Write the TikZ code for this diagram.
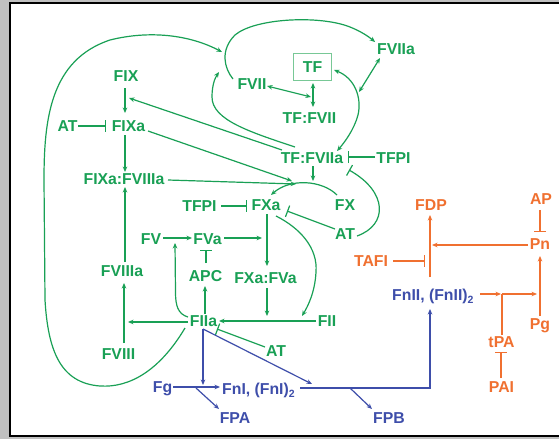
\documentclass[tikz,border=0pt]{standalone}
\usepackage{fontspec}
\setmainfont{Liberation Sans}
\usetikzlibrary{arrows.meta}
\definecolor{gcol}{RGB}{25,160,85}
\definecolor{ocol}{RGB}{240,112,48}
\definecolor{bcol}{RGB}{62,78,170}
\definecolor{tfbox}{RGB}{120,200,150}
\definecolor{bggray}{RGB}{192,192,192}
\newcommand\lblfont{\fontsize{15.8pt}{18pt}\selectfont\bfseries}
\newcommand\subtwo{\raisebox{-3.5pt}{\fontsize{10.5pt}{11pt}\selectfont 2}}
\begin{document}
\begin{tikzpicture}[x=1pt,y=-1pt,
  lbl/.style={font=\lblfont, inner sep=0pt, text height=11.4pt, text depth=0pt},
  gt/.style={lbl, text=gcol}, ot/.style={lbl, text=ocol}, bt/.style={lbl, text=bcol},
  gl/.style={draw=gcol, line width=1.2pt},
  ol/.style={draw=ocol, line width=1.2pt},
  bl/.style={draw=bcol, line width=1.2pt},
  arr/.style={-{Stealth[length=5.5pt,width=4.6pt]}},
  darr/.style={{Stealth[length=5.5pt,width=4.6pt]}-{Stealth[length=5.5pt,width=4.6pt]}},
  inh/.style={-{Bar[width=12pt]}}]
\useasboundingbox (0,0) rectangle (559,439);
% frame
\fill[bggray] (0,0) rectangle (559,439);
\fill[white] (10,3) rectangle (562,436);
\draw[black, line width=2.8pt] (565,436) -- (10,436) -- (10,3) -- (565,3);

% green nodes
\node[gt] (fix) at (126,76) {FIX};
\node[gt] (fixa) at (128.5,126) {FIXa};
\node[gt] (atl) at (67.5,126) {AT};
\node[gt] (fixafviiia) at (124,179) {FIXa:FVIIIa};
\node[gt] (tfpil) at (199.5,206) {TFPI};
\node[gt] (fxa) at (266,205) {FXa};
\node[gt] (fvii) at (252,84) {FVII};
\node[gt, draw=tfbox, line width=0.8pt, inner xsep=9pt, inner ysep=7.8pt] (tf) at (312.5,67) {TF};
\node[gt] (tffvii) at (309.5,117.5) {TF:FVII};
\node[gt] (fviia) at (396,49) {FVIIa};
\node[gt] (tffviia) at (312,157.5) {TF:FVIIa};
\node[gt] (tfpir) at (393.5,157.5) {TFPI};
\node[gt] (fx) at (345,205) {FX};
\node[gt] (atm) at (345,233.5) {AT};
\node[gt] (fv) at (151,238.5) {FV};
\node[gt] (fva) at (207.5,238.5) {FVa};
\node[gt] (apc) at (205.5,275.5) {APC};
\node[gt] (fviiia) at (122,271) {FVIIIa};
\node[gt] (fxafva) at (265.5,277.5) {FXa:FVa};
\node[gt] (fiia) at (203.5,321) {FIIa};
\node[gt] (fii) at (327,321) {FII};
\node[gt] (atb) at (276,351) {AT};
\node[gt] (fviii) at (118.5,354) {FVIII};
% blue nodes
\node[bt] (fg) at (162.5,386.5) {Fg};
\node[bt, anchor=west] (fni) at (222,388.5) {FnI, (FnI)\subtwo};
\node[bt] (fpa) at (235,417.5) {FPA};
\node[bt] (fpb) at (389,417.5) {FPB};
\node[bt, anchor=west] (fnii) at (392,294.5) {FnII, (FnII)\subtwo};
% orange nodes
\node[ot] (fdp) at (431,205) {FDP};
\node[ot] (tafi) at (371,261) {TAFI};
\node[ot] (pn) at (540,244) {Pn};
\node[ot] (ap) at (541,199) {AP};
\node[ot] (pg) at (540,324) {Pg};
\node[ot] (tpa) at (501.5,341.5) {tPA};
\node[ot] (pai) at (501.5,386.5) {PAI};

% green connectors
\draw[gl, arr] ([shift={(-1,12)}]fix.center) -- ([shift={(-3.5,-13)}]fixa.center);
\draw[gl, inh] ([shift={(10.5,0)}]atl.center) -- ([shift={(-22.5,0)}]fixa.center);
\draw[gl, arr] ([shift={(-3.5,9)}]fixa.center) -- ([shift={(1,-7)}]fixafviiia.center);
\draw[gl, arr] ([shift={(3,-9)}]fviiia.center) -- ([shift={(1,8)}]fixafviiia.center);
\draw[gl, arr] ([shift={(5.5,-11)}]fviii.center) -- ([shift={(2,12)}]fviiia.center);
\draw[gl, arr] ([shift={(-15.5,1)}]fiia.center) -- ([shift={(9.5,-32)}]fviii.center);
\draw[gl, arr] ([shift={(1.5,-7)}]fiia.center) -- ([shift={(-0.5,10.5)}]apc.center);
\draw[gl, inh] ([shift={(0.5,-12.5)}]apc.center) -- ([shift={(-1.5,11.5)}]fva.center);
\draw[gl, arr] ([shift={(12,-0.5)}]fv.center) -- ([shift={(-15.5,-0.5)}]fva.center);
\draw[gl, arr] ([shift={(-15.5,-4)}]fiia.center) .. controls (178,314) and (175.5,306) .. (175.5,292) -- ([shift={(24,4.5)}]fv.center);
\draw[gl, arr] ([shift={(16.5,-0.5)}]fva.center) -- ([shift={(-4,33)}]fxa.center);
\draw[gl, arr] ([shift={(1,9)}]fxa.center) -- ([shift={(1.5,-11.5)}]fxafva.center);
\draw[gl, arr] ([shift={(1.5,10.5)}]fxafva.center) -- ([shift={(63.5,-5)}]fiia.center);
\draw[gl, arr] ([shift={(-11,0)}]fii.center) -- ([shift={(15.5,0)}]fiia.center);
\draw[gl, arr] ([shift={(10,11)}]fxa.center) .. controls (300,228) and (318,248) .. (316,272) .. controls (315,292) and (308,306) .. ([shift={(-25,-5)}]fii.center);
\draw[gl, inh] ([shift={(-11,-4)}]atb.center) -- ([shift={(13.5,8)}]fiia.center);
\draw[gl, inh] ([shift={(-10,-4.5)}]atm.center) -- ([shift={(21,6)}]fxa.center);
\draw[gl, inh] ([shift={(21.5,0)}]tfpil.center) -- ([shift={(-19,1)}]fxa.center);
\draw[gl, arr] ([shift={(-8,-10)}]fx.center) .. controls (322,180) and (290,178) .. ([shift={(5,-10)}]fxa.center);
\draw[gl, arr] ([shift={(1,8.5)}]tffviia.center) -- ([shift={(1,23.5)}]tffviia.center);
\draw[gl, arr] ([shift={(19.5,5)}]fixa.center) -- ([shift={(26,-24)}]fxa.center);
\draw[gl, arr] ([shift={(44,1)}]fixafviiia.center) -- ([shift={(30,-21)}]fxa.center);
\draw[gl, arr] ([shift={(-30,-7.5)}]tffviia.center) -- ([shift={(3,22)}]fix.center);
\draw[gl, arr] ([shift={(-17,-10.5)}]tffviia.center) .. controls (250,132) and (212,120) .. (212,97) .. controls (212,85) and (215,78) .. ([shift={(-33,-12)}]fvii.center);
\draw[gl, arr] ([shift={(-19,-5)}]fvii.center) .. controls (224,68) and (220,50) .. (235,35) .. controls (255,18) and (320,15) .. (350,27) .. controls (360,31) and (368,36) .. ([shift={(-21,-7)}]fviia.center);
\draw[gl, arr] ([shift={(-18.5,7)}]fiia.center) .. controls (160,370) and (130,388) .. (100,386) .. controls (60,383) and (48,350) .. (45,300) -- (44,180) .. controls (44,120) and (50,60) .. (110,40) .. controls (150,30) and (190,35) .. ([shift={(-30,-32)}]fvii.center);
\draw[gl, darr] ([shift={(15,2)}]fvii.center) -- ([shift={(1.5,-20.5)}]tffvii.center);
\draw[gl, darr] ([shift={(0.5,16)}]tf.center) -- ([shift={(3.5,-10.5)}]tffvii.center);
\draw[gl, darr] ([shift={(21.5,3)}]tf.center) .. controls (355,78) and (362,98) .. (358,115) .. controls (354,130) and (344,143) .. ([shift={(25,-6.5)}]tffviia.center);
\draw[gl, darr] ([shift={(-16,9)}]fviia.center) -- ([shift={(46.5,25)}]tf.center);
\draw[gl, inh] ([shift={(-18.5,-0.5)}]tfpir.center) -- ([shift={(36,-0.5)}]tffviia.center);
\draw[gl, inh] ([shift={(12,2.5)}]atm.center) .. controls (388,225) and (388,192) .. ([shift={(37,12.5)}]tffviia.center);

% blue connectors
\draw[bl, arr] ([shift={(-0.5,8)}]fiia.center) -- ([shift={(-19,-3.5)}]fni.west);
\draw[bl, arr] ([shift={(-0.5,8)}]fiia.center) -- ([shift={(90,-4.5)}]fni.west);
\draw[bl, arr] ([shift={(10.5,0.5)}]fg.center) -- ([shift={(-2,-1.5)}]fni.west);
\draw[bl, arr] ([shift={(33.5,1.5)}]fg.center) -- ([shift={(-16,-8.5)}]fpa.center);
\draw[bl, arr] ([shift={(78,-0.5)}]fni.west) -| ([shift={(38,14.5)}]fnii.west);
\draw[bl, arr] ([shift={(128,-0.5)}]fni.west) -- ([shift={(-17,-8.5)}]fpb.center);

% orange connectors
\draw[ol, arr] ([shift={(38,-17.5)}]fnii.west) -- ([shift={(-1,10)}]fdp.center);
\draw[ol, inh] ([shift={(22,0)}]tafi.center) -- ([shift={(-6,56)}]fdp.center);
\draw[ol, arr] ([shift={(-12,1)}]pn.center) -- ([shift={(1,40)}]fdp.center);
\draw[ol, inh] ([shift={(-1,11)}]ap.center) -- ([shift={(0,-12)}]pn.center);
\draw[ol, arr] ([shift={(0,-8)}]pg.center) -- ([shift={(0,12)}]pn.center);
\draw[ol, arr] ([shift={(88,-0.5)}]fnii.west) -- ([shift={(-0.5,-47.5)}]tpa.center);
\draw[ol, arr] ([shift={(0.5,-47.5)}]tpa.center) -- ([shift={(-3,-30)}]pg.center);
\draw[ol] ([shift={(0.5,-6.5)}]tpa.center) -- ([shift={(0.5,-47.5)}]tpa.center);
\draw[ol, inh] ([shift={(-0.5,-8.5)}]pai.center) -- ([shift={(-0.5,10.5)}]tpa.center);
\end{tikzpicture}
\end{document}
